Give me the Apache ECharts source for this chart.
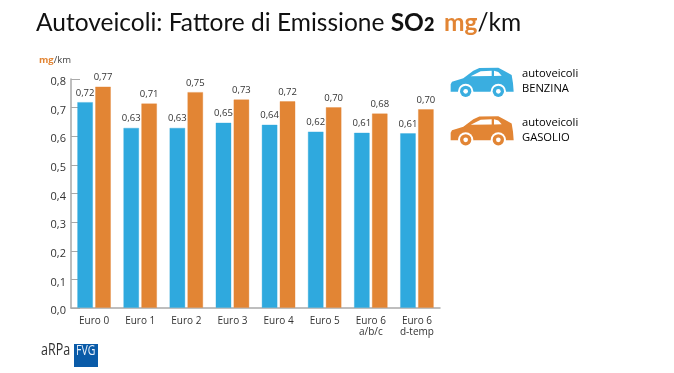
<!DOCTYPE html>
<html><head><meta charset="utf-8">
<style>html,body{margin:0;padding:0;background:#fff}#c{width:674px;height:373px}</style>
<script src="https://cdn.jsdelivr.net/npm/echarts@6/dist/echarts.min.js"></script></head>
<body><div id="c"></div>
<script>
const categories = ['Euro 0','Euro 1','Euro 2','Euro 3','Euro 4','Euro 5','Euro 6\na/b/c','Euro 6\nd-temp'];
const benzina = [0.72,0.63,0.63,0.648,0.641,0.617,0.613,0.611];
const gasolio = [0.774,0.715,0.755,0.729,0.723,0.702,0.68,0.695];
const benzinaLabels = ['0,72','0,63','0,63','0,65','0,64','0,62','0,61','0,61'];
const gasolioLabels = ['0,77','0,71','0,75','0,73','0,72','0,70','0,68','0,70'];
const comma = (v,d) => v.toFixed(d).replace('.',',');
const BLUE='#2fa9de', ORANGE='#e28534', FONT='Open Sans';

const bodyPts = [[62,125],[62,103],[66,95],[100,85],[130,62],[148,54],[205,53],[222,62],[245,75],[249,100],[251,125]];
function car(y, color){
  const wheel = (cx)=>[
    {type:'circle',shape:{cx,cy:124,r:23},style:{fill:'#fff'}},
    {type:'circle',shape:{cx,cy:124,r:17},style:{fill:color}},
    {type:'circle',shape:{cx,cy:124,r:7},style:{fill:'#fff'}}
  ];
  return {type:'group',x:430,y:y,scaleX:1/3,scaleY:1/3,silent:true,children:[
    {type:'polygon',shape:{points:bodyPts},style:{fill:color}},
    {type:'polygon',shape:{points:[[122,79],[185,78],[185,62],[152,64]]},style:{fill:'#fff'}},
    {type:'polygon',shape:{points:[[192,62],[192,78],[215,77],[205,66]]},style:{fill:'#fff'}},
    ...wheel(107),...wheel(205)
  ]};
}
const chart = echarts.init(document.getElementById('c'),null,{renderer:'canvas'});
const label = (labels)=>({show:true,position:'top',distance:4,fontSize:9.5,color:'#333',fontFamily:FONT,formatter:p=>labels[p.dataIndex]});
chart.setOption({
  animation:false,
  backgroundColor:'#fff',
  grid:{left:71,right:234,top:79,bottom:65,containLabel:false},
  xAxis:{type:'category',data:categories,
    axisLine:{lineStyle:{color:'#a9a9a9',width:1.5}},
    axisTick:{inside:true,length:5,lineStyle:{color:'#a9a9a9'}},
    axisLabel:{fontSize:10,color:'#333',fontFamily:FONT,margin:8,lineHeight:11,interval:0}},
  yAxis:{type:'value',min:0,max:0.8,interval:0.1,
    axisLine:{show:true,lineStyle:{color:'#a9a9a9',width:1.5}},
    axisTick:{show:true,inside:true,length:9,lineStyle:{color:'#a9a9a9'}},
    axisLabel:{fontSize:11,color:'#333',fontFamily:FONT,margin:5,verticalAlign:'top',lineHeight:6,formatter:v=>comma(v,1)},
    splitLine:{show:false}},
  series:[
    {name:'autoveicoli BENZINA',type:'bar',data:benzina,barWidth:16,barGap:'12%',itemStyle:{color:BLUE,borderColor:'rgba(47,169,222,0.35)',borderWidth:1},label:label(benzinaLabels)},
    {name:'autoveicoli GASOLIO',type:'bar',data:gasolio,barWidth:16,itemStyle:{color:ORANGE,borderColor:'rgba(226,133,52,0.35)',borderWidth:1},label:label(gasolioLabels)}
  ],
  graphic:[
    {type:'text',x:36,y:11,style:{
      text:'{a|Autoveicoli: Fattore di Emissione }{b|SO}{s|2}{a| } {c|mg}{a|/km}',
      rich:{
        a:{fontFamily:'Lato',fontSize:24.5,fill:'#111',fontWeight:400},
        b:{fontFamily:'Lato',fontSize:24.5,fill:'#111',fontWeight:700},
        s:{fontFamily:'Lato',fontSize:18,fill:'#111',fontWeight:900,verticalAlign:'bottom',padding:[0,0,2,0]},
        c:{fontFamily:'Lato',fontSize:24.5,fill:ORANGE,fontWeight:700}
      }}},
    {type:'text',x:39,y:55,style:{text:'{c|mg}{a|/km}',rich:{
      a:{fontFamily:FONT,fontSize:9.5,fill:'#444'},
      c:{fontFamily:FONT,fontSize:9.5,fill:ORANGE,fontWeight:700}}}},
    car(50,'#3aaee0'),
    car(98.5,ORANGE),
    {type:'text',x:522,y:66,style:{text:'autoveicoli\nBENZINA',fontFamily:FONT,fontSize:11.2,lineHeight:15,fill:'#000'}},
    {type:'text',x:522,y:115,style:{text:'autoveicoli\nGASOLIO',fontFamily:FONT,fontSize:11.2,lineHeight:15,fill:'#000'}},
    {type:'text',x:41,y:342,scaleX:0.78,style:{text:'aRPa',fontFamily:FONT,fontSize:16,fill:'#333'}},
    {type:'rect',shape:{x:74,y:344,width:24,height:23},style:{fill:'#0a5ba8'}},
    {type:'text',x:76,y:344,scaleX:0.75,style:{text:'FVG',fontFamily:FONT,fontSize:14,fill:'#e8f0fa'}}
  ]
});
</script></body></html>
